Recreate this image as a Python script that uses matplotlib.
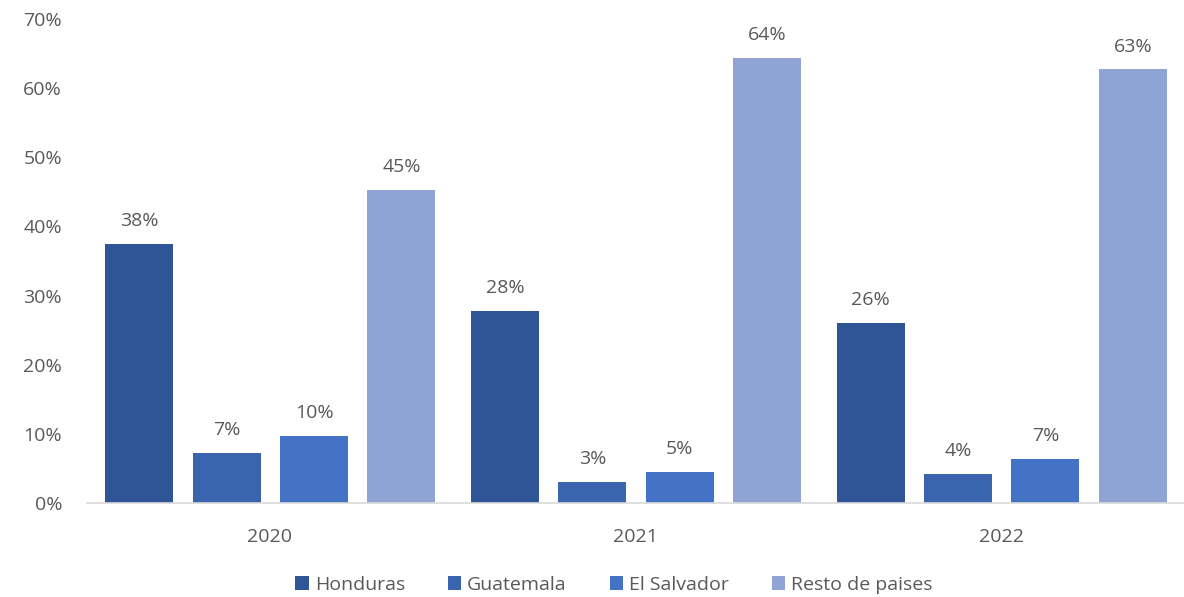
import matplotlib
matplotlib.use("Agg")
import matplotlib.pyplot as plt
import numpy as np
from matplotlib.ticker import FuncFormatter

years = ["2020", "2021", "2022"]
series = ["Honduras", "Guatemala", "El Salvador", "Resto de paises"]
honduras = [37.5, 27.8, 26.0]
guatemala = [7.2, 3.0, 4.2]
el_salvador = [9.7, 4.5, 6.4]
resto = [45.3, 64.4, 62.7]
labels = [["38%", "28%", "26%"], ["7%", "3%", "4%"], ["10%", "5%", "7%"], ["45%", "64%", "63%"]]

colors = ["#2F5597", "#3A64AD", "#4472C4", "#8FA4D4"]
text_color = "#595959"

plt.rcParams["font.family"] = ["Open Sans", "DejaVu Sans"]

fig = plt.figure(figsize=(11.84, 5.97), dpi=100)
ax = fig.add_axes([87 / 1184, 1 - 503 / 597, 1 - 87 / 1184, (503 - 19) / 597])

x = np.arange(len(years))
offsets = [-0.357, -0.118, 0.121, 0.360]
width = 0.186
for vals, off, col, name, labs in zip([honduras, guatemala, el_salvador, resto], offsets, colors, series, labels):
    bars = ax.bar(x + off, vals, width, color=col, label=name)
    for b, lab in zip(bars, labs):
        ax.text(b.get_x() + b.get_width() / 2, b.get_height() + 2.0, lab,
                ha="center", va="bottom", fontsize=14, color=text_color)

ax.set_xlim(-0.5, 2.5)
ax.set_ylim(0, 70)
ax.set_yticks(range(0, 71, 10))
ax.yaxis.set_major_formatter(FuncFormatter(lambda v, p: f"{int(v)}%"))
ax.set_xticks(x)
ax.set_xticklabels(years)
ax.tick_params(axis="both", length=0, labelsize=14, colors=text_color)
ax.tick_params(axis="y", pad=18)
ax.tick_params(axis="x", pad=18)
for s in ["top", "right", "left"]:
    ax.spines[s].set_visible(False)
ax.spines["bottom"].set_color("#D9D9D9")
ax.spines["bottom"].set_linewidth(1.2)

leg = fig.legend(loc="center", bbox_to_anchor=(614 / 1184, 1 - 585 / 597), ncol=4,
                 frameon=False, fontsize=14, handlelength=0.7, handleheight=0.7,
                 handletextpad=0.3, columnspacing=2.2)
for t in leg.get_texts():
    t.set_color(text_color)

fig.savefig("out.png", dpi=100)
